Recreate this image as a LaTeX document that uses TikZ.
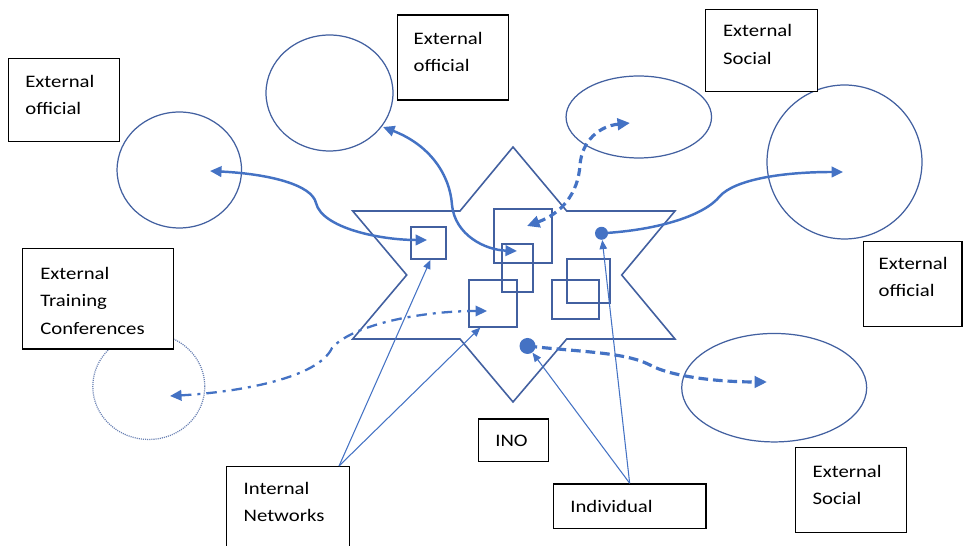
\documentclass[tikz,border=0pt]{standalone}
\usepackage{fontspec}
\setmainfont{Carlito}[FakeStretch=1.18]
\usetikzlibrary{arrows.meta,calc,fit,shapes.geometric}

\definecolor{shapeblue}{RGB}{66,96,160}
\definecolor{arrowblue}{RGB}{68,114,196}

\tikzset{
  lbox/.style={draw=black, line width=0.9pt, fill=white, inner sep=0pt},
  ltext/.style={anchor=north west, inner sep=0pt, align=left,
                font=\fontsize{10}{15.6}\selectfont, text=black},
  orbit/.style={ellipse, draw=shapeblue, line width=0.7pt, inner sep=0pt},
  dotorbit/.style={ellipse, draw=shapeblue!80, line width=0.7pt, inner sep=0pt,
                   dash pattern=on 0.6pt off 0.6pt},
  sq/.style={draw=shapeblue, line width=1pt, inner sep=0pt},
  hexagram/.style={draw=shapeblue, line width=0.9pt, line join=miter},
  dot/.style={circle, fill=arrowblue, inner sep=0pt},
  link/.style={draw=arrowblue, line width=1.4pt,
               >={Triangle[length=2.3mm,width=2.1mm]}},
  dlink/.style={draw=arrowblue, line width=1.8pt,
               >={Triangle[length=2.5mm,width=2.3mm]}},
  thin/.style={draw=arrowblue, line width=0.6pt,
               -{Triangle[length=1.8mm,width=1.5mm]}},
}

\begin{document}
\begin{tikzpicture}[x=0.02cm,y=-0.02cm]
\useasboundingbox (0,0) rectangle (964,546);
\clip (0,0) rectangle (964,546);
\fill[white] (0,0) rectangle (964,546);

% the organisation: a hexagram
\draw[hexagram] (513,147) -- (566.7,211) -- (675,211) -- (621.7,275)
  -- (675,339) -- (566.7,339) -- (513,402) -- (460,339) -- (352.7,339)
  -- (406.7,275) -- (352.7,211) -- (460,211) -- cycle;

% units inside the organisation
\node[sq, fit={(411,226.7) (446,259)}] (sqA) {};
\node[sq, fit={(494,209.3) (552,263.3)}] (sqB) {};
\node[sq, fit={(501.7,244) (532.7,292.3)}] (sqC) {};
\node[sq, fit={(469.3,280) (517.3,326.7)}] (sqD) {};
\node[sq, fit={(567.3,259) (610,303.3)}] (sqE) {};
\node[sq, fit={(552,280) (598.7,319)}] (sqF) {};

% outside groups
\node[orbit, minimum width=2.49cm, minimum height=2.32cm] (offL) at (179.3,170) {};
\node[orbit, minimum width=2.54cm, minimum height=2.32cm] (offT) at (329.5,93) {};
\node[orbit, minimum width=2.91cm, minimum height=1.64cm] (socT) at (638.8,117) {};
\node[orbit, minimum width=3.10cm, minimum height=3.08cm] (offR) at (844.5,162) {};
\node[orbit, minimum width=3.70cm, minimum height=2.17cm] (socR) at (774.2,387.7) {};
\node[dotorbit, minimum width=2.24cm, minimum height=2.12cm] (trn) at (148.8,386.5) {};

% connector ends
\coordinate (inOffL) at (210,171);
\coordinate (inOffT) at (383,127);
\coordinate (inSocT) at (630,123);
\coordinate (inOffR) at (843,172);
\coordinate (inSocR) at (767,382);
\coordinate (inTrn) at (170,396);
\coordinate (inA) at (427,240);
\coordinate (inB) at (527,226);
\coordinate (inC) at (517,251);
\coordinate (inD) at (487,311);

% individuals
\node[dot, minimum size=0.26cm] (ind1) at (601.5,233.3) {};
\node[dot, minimum size=0.32cm] (ind2) at (527.5,346) {};

% ties to the outside
\draw[link, <->] (inOffL) .. controls (270,174) and (312,185) .. (316,203)
  .. controls (322,228) and (380,240) .. (inA);
\draw[link, <->] (inOffT) .. controls (430,145) and (450,175) .. (452,205)
  .. controls (455,235) and (485,250) .. (inC);
\draw[dlink, <->, dash pattern=on 4.5pt off 2.8pt] (inB)
  .. controls (560,214) and (578,195) .. (580,165)
  .. controls (582,140) and (600,126) .. (inSocT);
\draw[link, ->] (ind1.center) .. controls (660,230) and (705,215) .. (720,196)
  .. controls (735,180) and (780,172) .. (inOffR);
\draw[dlink, ->, dash pattern=on 5.5pt off 2.8pt] (ind2.center)
  .. controls (580,352) and (625,352) .. (650,365)
  .. controls (672,377) and (720,382) .. (inSocR);
\draw[link, <->, line width=1.3pt,
      dash pattern=on 6pt off 3.4pt on 1.7pt off 3.4pt] (inTrn)
  .. controls (240,392) and (318,378) .. (332,348)
  .. controls (352,325) and (420,311) .. (inD);

% labels
\node[lbox, fit={(8.3,58.3) (119.3,141.7)}] (bOffL) {};
\node[ltext] (tOffL) at (25,74.7) {External\\official};
\node[lbox, fit={(397.3,15) (508.3,100)}] (bOffT) {};
\node[ltext] (tOffT) at (413.3,31.7) {External\\official};
\node[lbox, fit={(705.7,9.3) (817.7,91.7)}] (bSocT) {};
\node[ltext] (tSocT) at (722.7,24.2) {External\\Social};
\node[lbox, fit={(863.3,241.7) (962,326.7)}] (bOffR) {};
\node[ltext] (tOffR) at (878.3,256.7) {External\\official};
\node[lbox, fit={(22.3,248.3) (173.3,349)}] (bTrn) {};
\node[ltext] (tTrn) at (40,266.7) {External\\Training\\Conferences};
\node[lbox, fit={(795.7,447.3) (906.7,532.3)}] (bSocR) {};
\node[ltext] (tSocR) at (812.3,464.7) {External\\Social};
\node[lbox, fit={(478.3,419) (548.3,461.7)}] (bIno) {};
\node[ltext] (tIno) at (495,434.3) {INO};
\node[lbox, fit={(226.7,466.7) (349.3,560)}] (bNet) {};
\node[ltext] (tNet) at (243.3,481.7) {Internal\\Networks};
\node[lbox, fit={(553.3,484) (706,528.3)}] (bInd) {};
\node[ltext] (tInd) at (570,499.7) {Individual};

% pointers from the labels
\coordinate (netTop) at ($(bNet.north east)+(-11,0)$);
\draw[thin] (netTop) -- ($(sqA.south)+(2,0)$);
\draw[thin] (netTop) -- ($(sqD.south)+(-13,0)$);
\draw[thin] (bInd.north) -- (ind2);
\draw[thin] (bInd.north) -- (ind1);
\end{tikzpicture}
\end{document}
